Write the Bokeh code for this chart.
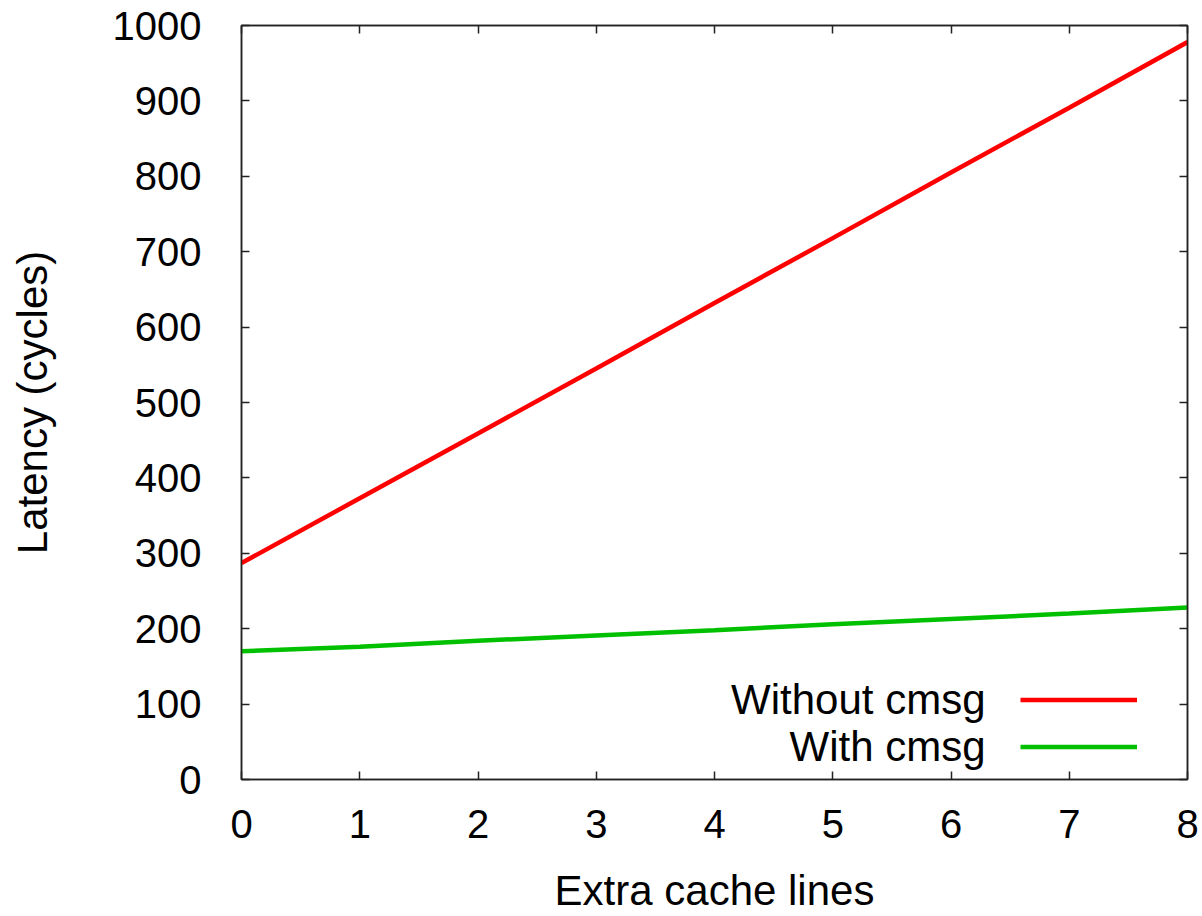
from bokeh.plotting import figure
from bokeh.models import (Range1d, SingleIntervalTicker, LinearAxis, Legend, LegendItem,
                          Label, CustomJSTickFormatter, ColumnDataSource)
from bokeh.embed import file_html
from bokeh.resources import INLINE

# ---- data ----
extra_lines = [0, 1, 2, 3, 4, 5, 6, 7, 8]
without_cmsg = [287, 373, 459, 545, 632, 718, 805, 891, 978]
with_cmsg = [170, 176, 184, 191, 198, 206, 213, 220, 228]
series_names = ["Without cmsg", "With cmsg"]
series_colors = ["#ff0000", "#00c000"]
x_label = "Extra cache lines"
y_label = "Latency (cycles)"

FONT = "Liberation Sans"
TICK_FS = "40px"
TITLE_FS = "42px"

src = ColumnDataSource(dict(x=extra_lines, a=without_cmsg, b=with_cmsg))

p = figure(width=1202, height=916, output_backend="svg", toolbar_location=None,
           x_range=Range1d(0, 8), y_range=Range1d(0, 1000),
           min_border_left=241, min_border_right=15, min_border_top=25, min_border_bottom=136)
p.background_fill_color = "white"
p.border_fill_color = "white"
p.grid.visible = False
p.outline_line_color = "#222222"
p.outline_line_width = 1.5

r1 = p.line("x", "a", source=src, line_color=series_colors[0], line_width=4.5)
r2 = p.line("x", "b", source=src, line_color=series_colors[1], line_width=4.5)

def style_axis(ax):
    ax.major_tick_in = 8
    ax.major_tick_out = 0
    ax.minor_tick_line_color = None
    ax.major_tick_line_color = "#222222"
    ax.major_tick_line_width = 1.5
    ax.axis_line_color = "#222222"
    ax.axis_line_width = 1.5
    ax.major_label_text_font = FONT
    ax.major_label_text_font_size = TICK_FS
    ax.major_label_text_color = "black"
    ax.axis_label_text_font = FONT
    ax.axis_label_text_font_size = TITLE_FS
    ax.axis_label_text_font_style = "normal"
    ax.axis_label_text_color = "black"

p.xaxis.ticker = SingleIntervalTicker(interval=1)
p.yaxis.ticker = SingleIntervalTicker(interval=100)
for ax in p.xaxis + p.yaxis:
    style_axis(ax)
p.xaxis.axis_label = x_label
p.yaxis.axis_label = y_label
p.xaxis.major_label_standoff = 26
p.xaxis.axis_label_standoff = 26
p.yaxis.major_label_standoff = 36
p.yaxis.axis_label_standoff = 54

blank = CustomJSTickFormatter(code="return ''")
top = LinearAxis(ticker=SingleIntervalTicker(interval=1), formatter=blank)
right = LinearAxis(ticker=SingleIntervalTicker(interval=100), formatter=blank)
for ax in (top, right):
    style_axis(ax)
    ax.major_label_standoff = 0
p.add_layout(top, "above")
p.add_layout(right, "right")

legend = Legend(items=[LegendItem(label=" ", renderers=[r1]),
                       LegendItem(label=" ", renderers=[r2])],
                location=(779, 9), glyph_width=117, glyph_height=47, label_width=0,
                label_height=20, label_standoff=0, label_text_font_size="10px",
                padding=0, margin=0, spacing=0, border_line_color=None,
                background_fill_alpha=0)
p.add_layout(legend, "center")

for i, name in enumerate(series_names):
    p.add_layout(Label(x=744, y=80 - 47 * i, x_units="screen", y_units="screen",
                       text=name, text_align="right", text_baseline="middle",
                       text_font=FONT, text_font_size=TITLE_FS, text_color="black"))

open("out.html", "w").write(file_html(p, INLINE))
